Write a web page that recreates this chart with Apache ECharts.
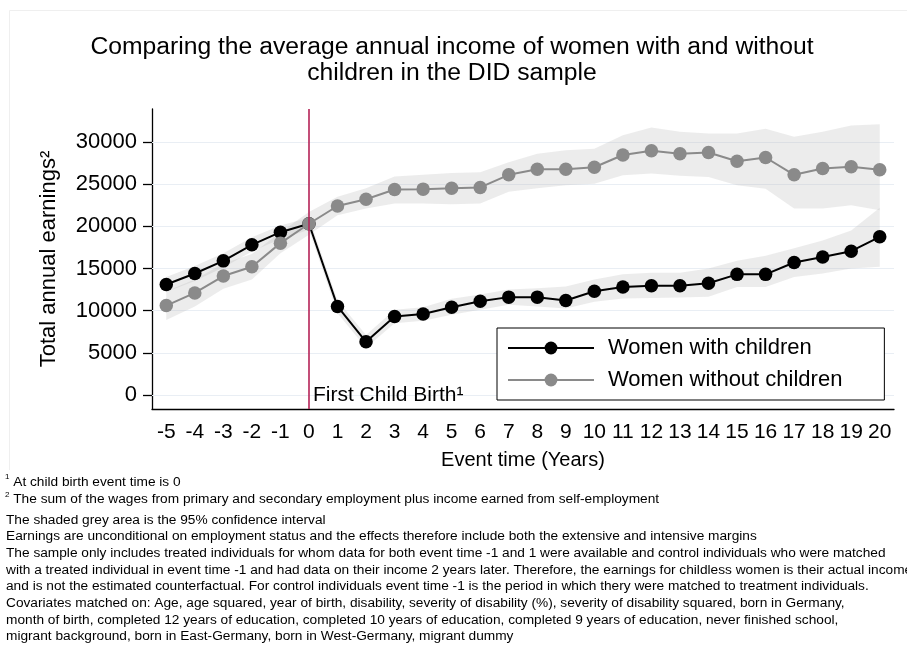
<!DOCTYPE html>
<html>
<head>
<meta charset="utf-8">
<script src="https://cdn.jsdelivr.net/npm/echarts@6/dist/echarts.min.js"></script>
<style>html,body{margin:0;padding:0;background:#fff}#c{width:907px;height:663px}</style>
</head>
<body>
<div id="c"></div>
<script>
// ---- data ----
const eventTimes = ['-5','-4','-3','-2','-1','0','1','2','3','4','5','6','7','8','9','10','11','12','13','14','15','16','17','18','19','20'];
const withChildren = [13100,14400,15900,17800,19300,20300,10500,6300,9300,9600,10400,11100,11600,11600,11200,12300,12800,12950,12950,13250,14300,14300,15700,16350,17050,18750];
const withChildrenLow = [12200,13500,15100,17000,18500,19600,9700,5600,8500,8800,9500,10100,10700,10500,10250,11050,11450,11500,11550,11650,12800,12800,14000,14400,15000,15200];
const withChildrenHigh = [14000,15300,16800,18700,20100,21000,11200,7100,10100,10400,11400,11900,12500,12650,12850,13700,14300,14500,14500,15000,15900,16500,17400,18300,19500,22200];
const withoutChildren = [10600,12100,14100,15200,18000,20300,22400,23200,24350,24400,24500,24600,26100,26750,26750,27000,28450,28950,28600,28750,27700,28150,26100,26850,27050,26700];
const withoutChildrenLow = [8900,10500,12600,13700,16800,19000,21300,22100,22700,22700,22600,22700,24100,24500,24850,25050,26050,26250,26000,25850,24850,24450,22100,22100,22500,21900];
const withoutChildrenHigh = [12300,13700,15600,16700,19300,21700,23500,24500,25900,26100,26300,26400,27600,28600,29000,29200,30800,31700,31200,31000,31000,31550,30600,31200,31950,32100];
const yTicks = [0,5000,10000,15000,20000,25000,30000];
const seriesNames = ['Women with children','Women without children'];

const FONT = "'Liberation Sans', Arial, Helvetica, sans-serif";
const diff = (hi, lo) => hi.map((v, i) => v - lo[i]);

const chart = echarts.init(document.getElementById('c'), null, {renderer: 'canvas'});

const bandColor = 'rgba(185,185,185,0.28)';

const option = {
  animation: false,
  backgroundColor: '#fff',
  textStyle: {fontFamily: FONT},
  grid: {left: 152, right: 13, top: 109, bottom: 254, containLabel: false},
  legend: {
    data: seriesNames,
    orient: 'vertical',
    left: 497, top: 328,
    z: 50,
    padding: [8, 42, 8, 10],
    backgroundColor: '#fff',
    borderColor: '#000', borderWidth: 1,
    itemWidth: 86, itemHeight: 16, itemGap: 8,
    textStyle: {fontSize: 22, color: '#000', fontFamily: FONT, lineHeight: 24, padding: [0, 0, 0, 9]}
  },
  xAxis: {
    type: 'category',
    data: eventTimes,
    boundaryGap: true,
    axisLine: {onZero: false, lineStyle: {color: '#000', width: 1.3}},
    axisTick: {alignWithLabel: true, length: 9, lineStyle: {color: '#000', width: 1.3}},
    axisLabel: {interval: 0, fontSize: 21, color: '#000', margin: 13, fontFamily: FONT},
    splitLine: {show: false},
    name: 'Event time (Years)',
    nameLocation: 'middle',
    nameGap: 41,
    nameTextStyle: {fontSize: 20, color: '#000', fontFamily: FONT}
  },
  yAxis: {
    type: 'value',
    min: -1660, max: 33900,
    axisLine: {show: true, onZero: false, lineStyle: {color: '#000', width: 1.3}},
    axisTick: {show: true, length: 9, customValues: yTicks, lineStyle: {color: '#000', width: 1.3}},
    axisLabel: {fontSize: 22, color: '#000', margin: 15, customValues: yTicks, fontFamily: FONT,
                formatter: v => String(v)},
    splitLine: {show: false},
    name: 'Total annual earnings²',
    nameLocation: 'middle',
    nameGap: 92,
    nameRotate: 90,
    nameTextStyle: {fontSize: 22, color: '#000', fontFamily: FONT}
  },
  series: [
    {name: 'bandLowB', type: 'line', stack: 'bandB', data: withChildrenLow, symbol: 'none', lineStyle: {opacity: 0}, silent: true, z: 1,
     markLine: {silent: true, z: 1, symbol: 'none', label: {show: false}, lineStyle: {color: '#e9eef4', width: 1.2, type: 'solid'},
                data: yTicks.map(v => ({yAxis: v}))}},
    {name: 'bandB', type: 'line', stack: 'bandB', data: diff(withChildrenHigh, withChildrenLow), symbol: 'none', lineStyle: {opacity: 0}, areaStyle: {color: bandColor, opacity: 1}, silent: true, z: 1},
    {name: 'bandLowG', type: 'line', stack: 'bandG', data: withoutChildrenLow, symbol: 'none', lineStyle: {opacity: 0}, silent: true, z: 1},
    {name: 'bandG', type: 'line', stack: 'bandG', data: diff(withoutChildrenHigh, withoutChildrenLow), symbol: 'none', lineStyle: {opacity: 0}, areaStyle: {color: bandColor, opacity: 1}, silent: true, z: 1},
    {name: seriesNames[0], type: 'line', data: withChildren, symbol: 'circle', symbolSize: 13.5, showSymbol: true,
     lineStyle: {color: '#000', width: 2}, itemStyle: {color: '#000'}, z: 3,
     markLine: {silent: true, symbol: 'none', label: {show: false}, lineStyle: {color: '#b52257', width: 1.6, type: 'solid'}, data: [{xAxis: '0'}]},
     markPoint: {silent: true, symbol: 'circle', symbolSize: 0, data: [{coord: ['0', 0]}],
       label: {show: true, position: 'right', distance: 4, formatter: 'First Child Birth¹', fontSize: 21, color: '#000', fontFamily: FONT}}},
    {name: seriesNames[1], type: 'line', data: withoutChildren, symbol: 'circle', symbolSize: 13.5, showSymbol: true,
     lineStyle: {color: '#8a8a8a', width: 2}, itemStyle: {color: '#8a8a8a'}, z: 4}
  ],
  graphic: [
    {type: 'polyline', silent: true, shape: {points: [[9.5, 470], [9.5, 10.5], [910, 10.5]]}, style: {fill: 'none', stroke: '#efefef', lineWidth: 1}},
    {type: 'text', silent: true, x: 452, y: 60, style: {
      text: 'Comparing the average annual income of women with and without\nchildren in the DID sample',
      font: '24.7px ' + FONT, fill: '#000', align: 'center', verticalAlign: 'middle', lineHeight: 26}},
    {type: 'text', silent: true, x: 5, y: 473, style: {
      text: '{s|1} At child birth event time is 0\n{s|2} The sum of the wages from primary and secondary employment plus income earned from self-employment',
      font: '13.7px ' + FONT, fill: '#000', lineHeight: 17.6,
      rich: {s: {fontSize: 8, fill: '#000', fontFamily: FONT, verticalAlign: 'top', lineHeight: 17.6}}}},
    {type: 'text', silent: true, x: 6, y: 511.7, style: {
      text: 'The shaded grey area is the 95% confidence interval\n' +
            'Earnings are unconditional on employment status and the effects therefore include both the extensive and intensive margins\n' +
            'The sample only includes treated individuals for whom data for both event time -1 and 1 were available and control individuals who were matched\n' +
            'with a treated individual in event time -1 and had data on their income 2 years later. Therefore, the earnings for childless women is their actual income\n' +
            'and is not the estimated counterfactual. For control individuals event time -1 is the period in which thery were matched to treatment individuals.\n' +
            'Covariates matched on: Age, age squared, year of birth, disability, severity of disability (%), severity of disability squared, born in Germany,\n' +
            'month of birth, completed 12 years of education, completed 10 years of education, completed 9 years of education, never finished school,\n' +
            'migrant background, born in East-Germany, born in West-Germany, migrant dummy',
      font: '13.7px ' + FONT, fill: '#000', lineHeight: 16.67}}
  ]
};
chart.setOption(option);
</script>
</body>
</html>
